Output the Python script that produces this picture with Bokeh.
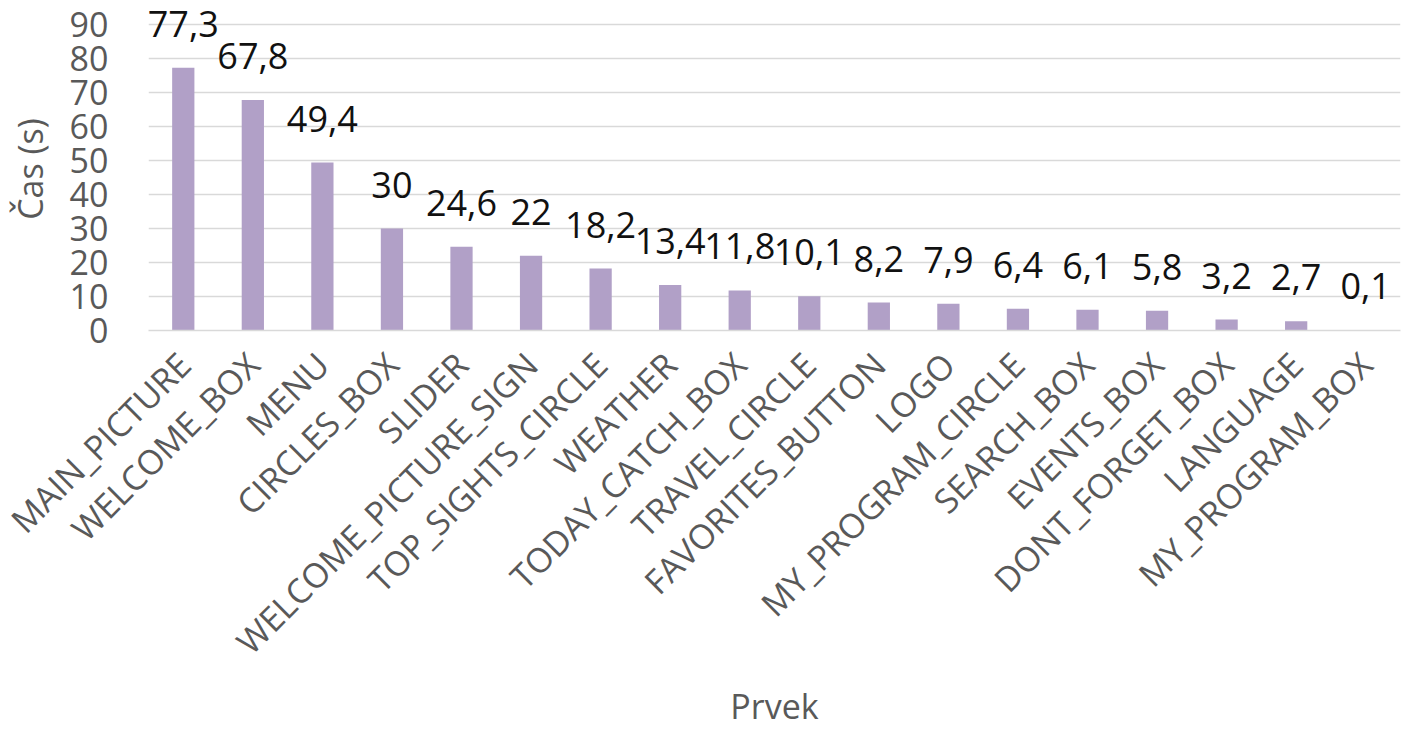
import math
from bokeh.plotting import figure
from bokeh.models import ColumnDataSource, LabelSet, FixedTicker
from bokeh.core.properties import value
from bokeh.embed import file_html
from bokeh.resources import INLINE

categories = ["MAIN_PICTURE", "WELCOME_BOX", "MENU", "CIRCLES_BOX", "SLIDER",
              "WELCOME_PICTURE_SIGN", "TOP_SIGHTS_CIRCLE", "WEATHER", "TODAY_CATCH_BOX",
              "TRAVEL_CIRCLE", "FAVORITES_BUTTON", "LOGO", "MY_PROGRAM_CIRCLE",
              "SEARCH_BOX", "EVENTS_BOX", "DONT_FORGET_BOX", "LANGUAGE", "MY_PROGRAM_BOX"]
values = [77.3, 67.8, 49.4, 30, 24.6, 22, 18.2, 13.4, 11.8, 10.1, 8.2, 7.9, 6.4, 6.1, 5.8, 3.2, 2.7, 0.1]
y_ticks = [0, 10, 20, 30, 40, 50, 60, 70, 80, 90]

def fmt(v):
    s = ("%g" % v)
    return s.replace(".", ",")

labels = [fmt(v) for v in values]

src = ColumnDataSource(dict(cat=categories, val=values, lab=labels))

FONT = "Open Sans"
GRAY = "#595959"

p = figure(x_range=categories, y_range=(0, 95), width=1405, height=732,
           output_backend="svg", toolbar_location=None,
           min_border_left=148, min_border_right=5, min_border_top=7, min_border_bottom=402)

p.vbar(x="cat", top="val", width=0.32, source=src, color="#B1A0C7", line_color=None)

ls = LabelSet(x="cat", y="val", text="lab", source=src, text_align="center",
              text_baseline="middle", y_offset=44, text_font=value(FONT), text_font_size="36px",
              text_color="#111111")
p.add_layout(ls)

p.outline_line_color = None
p.xgrid.grid_line_color = None
p.ygrid.grid_line_color = "#d9d9d9"
p.ygrid.grid_line_width = 1.5
p.yaxis.ticker = FixedTicker(ticks=y_ticks)
p.yaxis.axis_line_color = None
p.yaxis.major_tick_line_color = None
p.yaxis.minor_tick_line_color = None
p.yaxis.major_label_standoff = 34
p.yaxis.axis_label = "Čas (s)"
p.yaxis.axis_label_standoff = 14

p.xaxis.axis_line_color = "#d9d9d9"
p.xaxis.axis_line_width = 1.5
p.xaxis.major_tick_line_color = None
p.xaxis.minor_tick_line_color = None
p.xaxis.major_label_orientation = math.pi / 4
p.xaxis.major_label_standoff = 22
p.xaxis.axis_label = "Prvek"
p.xaxis.axis_label_standoff = 0

for ax in (p.xaxis, p.yaxis):
    ax.major_label_text_font = FONT
    ax.major_label_text_font_size = "34px"
    ax.major_label_text_color = GRAY
    ax.axis_label_text_font = FONT
    ax.axis_label_text_font_size = "34px"
    ax.axis_label_text_font_style = "normal"
    ax.axis_label_text_color = GRAY

p.x_range.range_padding = 0

open("out.html", "w").write(file_html(p, INLINE))
